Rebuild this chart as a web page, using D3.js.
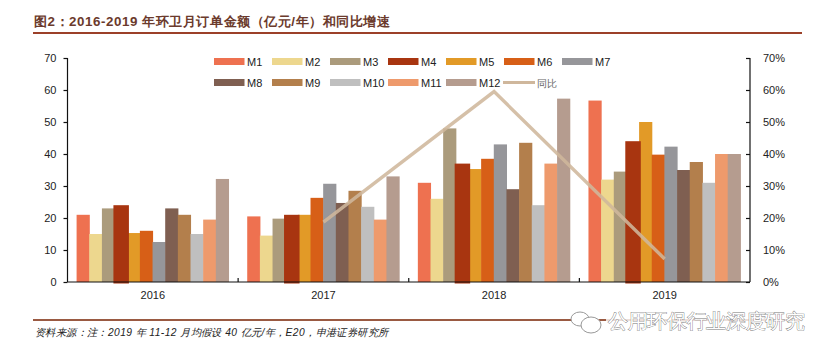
<!DOCTYPE html>
<html><head><meta charset="utf-8">
<script src="https://cdn.jsdelivr.net/npm/d3@7/dist/d3.min.js"></script>
<style>html,body{margin:0;padding:0;background:#fff}svg{display:block}
text{font-family:"Liberation Sans",Arial,sans-serif}</style></head><body>
<script>
const years = ["2016","2017","2018","2019"];
const months = ["M1","M2","M3","M4","M5","M6","M7","M8","M9","M10","M11","M12"];
const y2016 = [21,15,23,24,15.3,16,12.5,23,21,15,19.5,32.2];
const y2017 = [20.5,14.5,19.8,21,21,26.3,30.7,24.7,28.5,23.5,19.5,33];
const y2018 = [31,26,48,37,35.3,38.5,43,29,43.5,24,37,57.3];
const y2019 = [56.7,32,34.5,44,50,39.8,42.3,35,37.5,31,40,40];
const growthYears = ["2017","2018","2019"];
const growth = [0.187,0.595,0.072];
const leftTicks = [0,10,20,30,40,50,60,70];
const rightTicks = [0,.1,.2,.3,.4,.5,.6,.7];
const colors = ["#ee7150","#edd78e","#ab9b7c","#a83510","#e29a27","#d75f17","#96969a","#7f5f51","#b37f4c","#bfbfbf","#ee9a6c","#b59c8f"];
const lineColor = "#cfb79c";
const titleText = "图2：2016-2019 年环卫月订单金额（亿元/年）和同比增速";
const sourceText = "资料来源：注：2019 年 11-12 月均假设 40 亿元/年，E20，申港证券研究所";
const markText = "公用环保行业深度研究";
const lineLabel = "同比";
const byYear = [y2016,y2017,y2018,y2019];

const W=832,H=357,L=67.5,R=750,T=58,B=282;
const svg=d3.select("body").append("svg").attr("width",W).attr("height",H);
const cjk='"Noto Sans CJK SC","Liberation Sans",sans-serif';

const x0=d3.scaleBand().domain(years).range([L,R]);
const x1=d3.scaleBand().domain(months).range([0,x0.bandwidth()]).paddingOuter(0.74).paddingInner(0);
const y=d3.scaleLinear().domain([0,70]).range([B,T]);
const yR=d3.scaleLinear().domain([0,.7]).range([B,T]);

// header / footer
svg.append("text").attr("x",34).attr("y",26).attr("font-family",cjk).attr("font-weight",700)
  .attr("font-size",13.35).attr("textLength",356).attr("lengthAdjust","spacing").attr("fill","#6b3a2c").text(titleText);
svg.append("rect").attr("x",33).attr("y",32).attr("width",769).attr("height",2).attr("fill","#9c4029");
svg.append("rect").attr("x",33).attr("y",319).attr("width",769).attr("height",2).attr("fill","#9a5a42");
svg.append("text").attr("x",35).attr("y",336).attr("font-family",cjk).attr("font-style","italic")
  .attr("font-size",10.25).attr("textLength",353).attr("lengthAdjust","spacing").attr("fill","#222").text(sourceText);

// bars (M4 is on top and a little wider in the reference)
years.forEach((yr,i)=>{
  const g=svg.append("g").attr("transform",`translate(${x0(yr)},0)`);
  const order=months.map((m,k)=>k).sort((a,b)=>(a===3)-(b===3));
  order.forEach(k=>{
    const w=k===3?15.5:13.2;
    g.append("rect").attr("x",x1(months[k])+x1.bandwidth()/2-w/2).attr("y",y(byYear[i][k]))
     .attr("width",w).attr("height",y(0)-y(byYear[i][k])+(k===3?1.5:0)).attr("fill",colors[k]);
  });
});

// axes
const tickFont=g=>g.selectAll("text").attr("font-size",11).attr("fill","#222");
const ax=d3.axisLeft(y).tickValues(leftTicks).tickSize(4).tickPadding(7);
const gl=svg.append("g").attr("transform",`translate(${L},0)`).call(ax);
const axR=d3.axisRight(yR).tickValues(rightTicks).tickFormat(d3.format(".0%")).tickSize(4).tickPadding(9);
const gr=svg.append("g").attr("transform",`translate(${R},0)`).call(axR);
gr.selectAll(".tick line").attr("x2",-4);
const gb=svg.append("g").attr("transform",`translate(0,${B})`)
  .call(d3.axisBottom(x0).tickSize(0).tickPadding(9));
gb.selectAll(".tick text").attr("dy","0.75em");
[gl,gr,gb].forEach(g=>{
  g.attr("font-family",null).call(tickFont);
  g.selectAll("path,line").attr("stroke","#111").attr("stroke-width",1.2);
});
gl.selectAll(".domain").attr("d",`M0.5,${T}V${B}`).attr("transform","translate(-0.5,0)");
gr.selectAll(".domain").attr("d",`M0,${T}V${B}`);
gb.selectAll(".domain").attr("d",`M${L},0H${R}`);
years.slice(1).forEach(yr=>{
  svg.append("line").attr("x1",x0(yr)).attr("x2",x0(yr)).attr("y1",B).attr("y2",B-4)
    .attr("stroke","#111").attr("stroke-width",1.2);
});

// line
const lineGen=d3.line().x((d,i)=>x0(growthYears[i])+x0.bandwidth()/2).y(d=>yR(d));
svg.append("path").attr("d",lineGen(growth)).attr("fill","none").attr("stroke",lineColor)
  .attr("stroke-width",3.4).attr("stroke-opacity",0.88);

// legend
const legX=d3.scaleLinear().domain([0,6]).range([214,562]);
const legY=d3.scaleOrdinal().domain([0,1]).range([61.5,82.5]);
months.forEach((m,k)=>{
  const col=k<7?k:k-7, row=k<7?0:1;
  const lx=legX(col), ly=legY(row);
  svg.append("rect").attr("x",lx).attr("y",ly-3.5).attr("width",30.5).attr("height",7).attr("fill",colors[k]);
  svg.append("text").attr("x",lx+33).attr("y",ly+4).attr("font-size",11).attr("fill","#222").text(m);
});
{
  const lx=legX(5), ly=legY(1);
  svg.append("line").attr("x1",lx-1).attr("x2",lx+31).attr("y1",ly).attr("y2",ly)
    .attr("stroke",lineColor).attr("stroke-width",3);
  svg.append("text").attr("x",lx+33).attr("y",ly+4).attr("font-family",cjk).attr("font-size",10)
    .attr("fill","#666").text(lineLabel);
}

// watermark
const wm=svg.append("g");
wm.append("rect").attr("x",606).attr("y",310).attr("width",206).attr("height",30).attr("fill","#fff").attr("opacity",.8);
wm.append("ellipse").attr("cx",580).attr("cy",319).attr("rx",9).attr("ry",7).attr("fill","#fff").attr("stroke","#999").attr("stroke-width",1);
wm.append("ellipse").attr("cx",591).attr("cy",325).attr("rx",10).attr("ry",8).attr("fill","#fff").attr("stroke","#999").attr("stroke-width",1);
wm.append("text").attr("x",608).attr("y",328).attr("font-family",cjk).attr("font-size",19.6)
  .attr("textLength",197).attr("lengthAdjust","spacing")
  .attr("fill","#fff").attr("stroke","#777").attr("stroke-width",.8).attr("paint-order","stroke").text(markText);
</script></body></html>
